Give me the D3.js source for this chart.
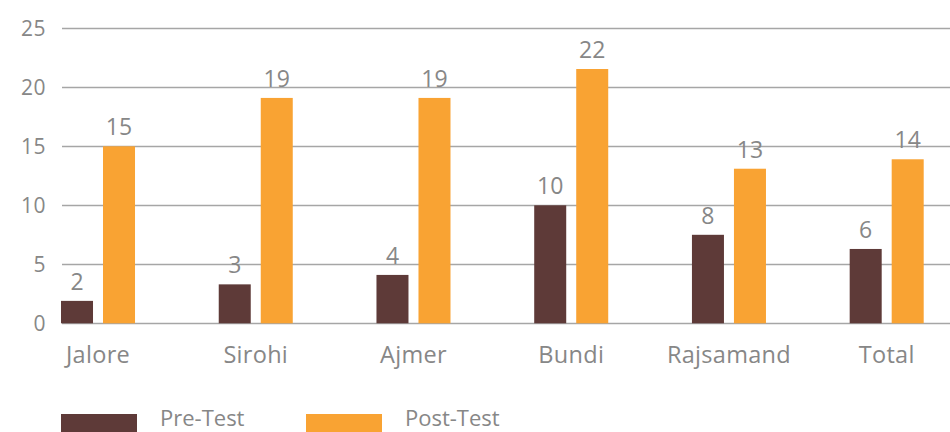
<!DOCTYPE html>
<html>
<head>
<meta charset="utf-8">
<script src="https://cdn.jsdelivr.net/npm/d3@7"></script>
<style>
  html, body { margin: 0; padding: 0; background: #fff; }
  svg { display: block; }
  text { font-family: "Open Sans", "DejaVu Sans", sans-serif; }
</style>
</head>
<body>
<svg id="chart" width="950" height="432"></svg>
<script>
const categories = ["Jalore", "Sirohi", "Ajmer", "Bundi", "Rajsamand", "Total"];
const seriesNames = ["Pre-Test", "Post-Test"];
const preTest = [1.9, 3.3, 4.1, 10.0, 7.5, 6.3];
const postTest = [15.0, 19.1, 19.1, 21.55, 13.1, 13.9];
const preLabels = ["2", "3", "4", "10", "8", "6"];
const postLabels = ["15", "19", "19", "22", "13", "14"];
const yTicks = [0, 5, 10, 15, 20, 25];
const colors = ["#5e3a38", "#f9a333"];

const svg = d3.select("#chart");
const W = 950;
const textColor = "#878787";

const y = d3.scaleLinear().domain([0, 25]).range([323.3, 28.3]);
const x0 = d3.scaleBand().domain(categories).range([61, 923.7]).paddingInner(1 - 74 / 157.7).paddingOuter(0);
const x1 = d3.scaleBand().domain(seriesNames).range([0, x0.bandwidth()]).paddingInner(10 / 42).paddingOuter(0);

// gridlines
svg.append("g").selectAll("line").data(yTicks).join("line")
  .attr("x1", 62).attr("x2", W)
  .attr("y1", d => Math.round(y(d)) + 0.5).attr("y2", d => Math.round(y(d)) + 0.5)
  .attr("stroke", "#a6a6a6").attr("stroke-width", 1.3);

// y axis labels
const yAxis = d3.axisLeft(y).tickValues(yTicks).tickSize(0).tickPadding(0);
const yg = svg.append("g").attr("transform", "translate(46,0)").call(yAxis);
yg.select(".domain").remove();
yg.selectAll("text").attr("font-size", 21).attr("fill", textColor)
  .attr("font-family", "'Open Sans', sans-serif").attr("font-weight", 400)
  .attr("letter-spacing", 0.5);

const data = categories.map((c, i) => ({cat: c, vals: [
  {s: seriesNames[0], v: preTest[i], lab: preLabels[i]},
  {s: seriesNames[1], v: postTest[i], lab: postLabels[i]}
]}));

const groups = svg.append("g").selectAll("g").data(data).join("g")
  .attr("transform", d => `translate(${x0(d.cat)},0)`);

groups.selectAll("rect").data(d => d.vals).join("rect")
  .attr("x", d => x1(d.s)).attr("width", x1.bandwidth())
  .attr("y", d => y(d.v)).attr("height", d => y(0) - y(d.v))
  .attr("fill", (d, i) => colors[i]);

groups.selectAll("text").data(d => d.vals).join("text")
  .attr("x", d => x1(d.s) + x1.bandwidth() / 2)
  .attr("y", d => y(d.v) - 11)
  .attr("text-anchor", "middle")
  .attr("font-size", 23).attr("fill", textColor)
  .text(d => d.lab);

// x axis labels
const xAxis = d3.axisBottom(x0).tickSize(0).tickPadding(0);
const xg = svg.append("g").attr("transform", "translate(0,363)").call(xAxis);
xg.select(".domain").remove();
xg.selectAll("text").attr("font-size", 23.5).attr("fill", textColor)
  .attr("font-family", "'Open Sans', sans-serif").attr("dy", 0).attr("y", 0)
  .attr("letter-spacing", 0.3);

// legend
const legendX = [61, 306];
const leg = svg.append("g").selectAll("g").data(seriesNames).join("g")
  .attr("transform", (d, i) => `translate(${legendX[i]},0)`);
leg.append("rect").attr("x", 0).attr("y", 414).attr("width", 76).attr("height", 20)
  .attr("fill", (d, i) => colors[i]);
leg.append("text").attr("x", 99).attr("y", 426).attr("font-size", 22)
  .attr("fill", textColor).text(d => d);
</script>
</body>
</html>
